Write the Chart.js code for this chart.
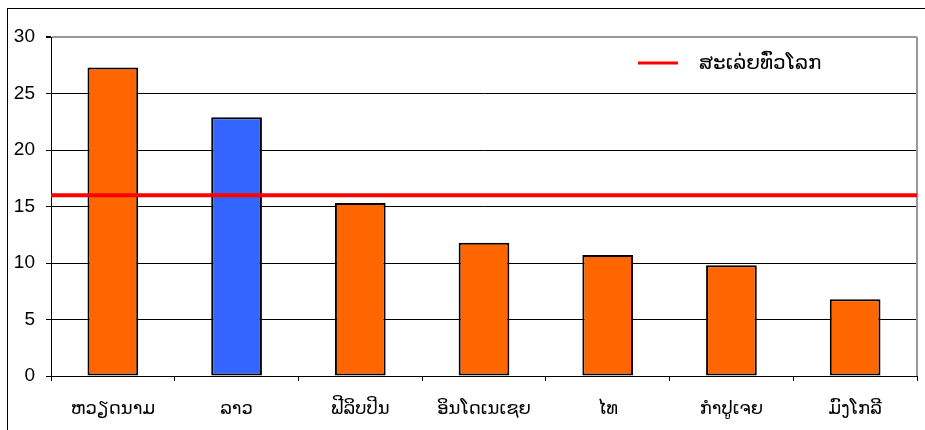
<!DOCTYPE html>
<html>
<head>
<meta charset="utf-8">
<script src="https://cdn.jsdelivr.net/npm/chart.js@4"></script>
<style>
  html, body { margin: 0; padding: 0; background: #fff; }
  #wrap { position: relative; width: 925px; height: 430px; }
  #frame { position: absolute; left: 7px; top: 8px; width: 940px; height: 440px;
           border-left: 1.5px solid #000; border-top: 1.5px solid #000; pointer-events: none; }
</style>
</head>
<body>
<div id="wrap">
  <canvas id="c" width="925" height="430"></canvas>
  <div id="frame"></div>
</div>
<script>
const categories = ['ຫວຽດນາມ', 'ລາວ', 'ຟີລິບປິນ', 'ອິນໂດເນເຊຍ', 'ໄທ', 'ກຳປູເຈຍ', 'ມົງໂກລີ'];
const values = [27.3, 22.9, 15.3, 11.8, 10.7, 9.8, 6.8];
const barColors = ['#ff6600', '#3366ff', '#ff6600', '#ff6600', '#ff6600', '#ff6600', '#ff6600'];
const worldAverage = 16.0;
const averageLabel = 'ສະເລ່ຍທົ່ວໂລກ';
const yTicks = [0, 5, 10, 15, 20, 25, 30];

const FONT = "'Liberation Sans', 'DejaVu Sans', Arial, sans-serif";

const averagePlugin = {
  id: 'averageLine',
  afterDatasetsDraw(chart) {
    const { ctx, chartArea, scales } = chart;
    const y = scales.y.getPixelForValue(worldAverage);
    ctx.save();
    // plot-area right border
    ctx.strokeStyle = '#999999';
    ctx.lineWidth = 2;
    ctx.beginPath();
    ctx.moveTo(chartArea.right, chartArea.top);
    ctx.lineTo(chartArea.right, chartArea.bottom);
    ctx.stroke();
    // average line
    ctx.strokeStyle = '#ff0000';
    ctx.lineWidth = 4;
    ctx.beginPath();
    ctx.moveTo(chartArea.left, y);
    ctx.lineTo(chartArea.right, y);
    ctx.stroke();
    // legend
    const lx = chartArea.right - 279;
    const ly = chartArea.top + 26;
    ctx.lineWidth = 3;
    ctx.beginPath();
    ctx.moveTo(lx, ly);
    ctx.lineTo(lx + 40, ly);
    ctx.stroke();
    ctx.fillStyle = '#000';
    ctx.font = "20px " + FONT;
    ctx.textBaseline = 'middle';
    ctx.textAlign = 'left';
    ctx.fillText(averageLabel, lx + 61, ly);
    ctx.restore();
  }
};

new Chart(document.getElementById('c'), {
  type: 'bar',
  data: {
    labels: categories,
    datasets: [{
      data: values,
      backgroundColor: barColors,
      borderColor: '#000',
      borderWidth: 2,
      borderSkipped: false,
      categoryPercentage: 1.0,
      barPercentage: 0.41
    }]
  },
  options: {
    responsive: false,
    animation: false,
    devicePixelRatio: 1,
    layout: { padding: { left: 8, right: 8, top: 37, bottom: 0 } },
    plugins: { legend: { display: false }, tooltip: { enabled: false } },
    scales: {
      x: {
        offset: true,
        grid: { display: true, drawOnChartArea: false, drawTicks: true, tickLength: 5, color: '#000', offset: true },
        border: { display: true, color: '#000', width: 1 },
        ticks: { color: '#000', font: { family: FONT, size: 18 }, padding: 17, maxRotation: 0, autoSkip: false },
        afterFit(s) { s.height = 54; }
      },
      y: {
        min: 0, max: 30,
        afterBuildTicks(s) { s.ticks = yTicks.map(v => ({ value: v })); },
        grid: {
          color: ctx => (ctx.tick && ctx.tick.value === 30) ? '#999999' : '#000',
          lineWidth: ctx => (ctx.tick && ctx.tick.value === 30) ? 2 : 1,
          drawTicks: true, tickLength: 5,
          tickColor: '#000'
        },
        border: { display: true, color: '#000', width: 1 },
        ticks: { color: '#000', font: { family: FONT, size: 19 }, padding: 11 },
        afterFit(s) { s.width = 43; }
      }
    }
  },
  plugins: [averagePlugin]
});
</script>
</body>
</html>
